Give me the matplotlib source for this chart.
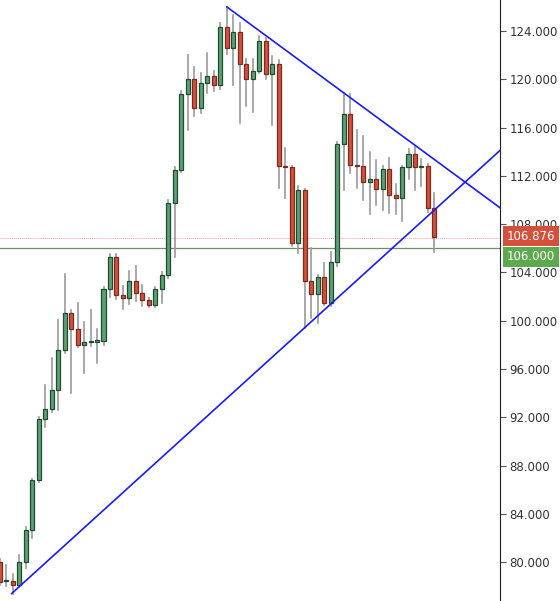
import matplotlib
matplotlib.use("Agg")
import matplotlib.pyplot as plt
from matplotlib.patches import Rectangle

opens = [80.0,78.4,78.4,78.1,80.0,82.7,86.8,91.85,92.7,94.3,97.6,100.6,99.3,98.0,98.2,98.25,98.3,102.6,105.3,102.1,
         101.9,103.3,102.3,101.7,101.3,102.6,103.8,109.75,112.5,118.8,120.0,117.6,119.7,120.3,119.5,124.3,122.6,123.9,121.3,120.0,
         120.7,123.2,120.4,121.3,112.8,112.7,106.4,110.8,103.3,102.2,103.6,101.5,104.9,114.6,117.1,112.9,112.8,111.5,111.7,110.9,
         112.6,110.4,110.2,112.7,113.8,112.7,112.8,109.3]
closes = [78.35,78.45,78.1,80.0,82.7,86.8,91.85,92.7,94.3,97.6,100.6,99.3,98.0,98.2,98.25,98.3,102.6,105.3,102.1,101.9,
          103.3,102.3,101.7,101.3,102.6,103.8,109.75,112.5,118.8,120.0,117.6,119.7,120.3,119.5,124.3,122.6,123.9,121.3,120.0,120.7,
          123.2,120.4,121.3,112.8,112.7,106.4,110.8,103.3,102.2,103.6,101.5,104.9,114.6,117.1,112.9,112.8,111.5,111.7,110.9,112.6,
          110.4,110.2,112.7,113.8,112.7,112.8,109.3,106.9]
highs = [80.3,79.8,79.0,80.6,82.9,86.9,92.0,94.7,96.9,100.1,103.9,100.9,101.5,99.9,100.9,99.3,102.8,105.5,105.5,102.9,
         104.1,104.5,103.0,101.9,102.8,104.0,110.0,112.7,119.0,122.0,121.0,120.5,122.2,120.7,124.7,126.0,125.3,124.7,121.7,121.7,
         123.6,123.4,121.9,121.6,114.3,112.8,111.2,110.9,106.0,103.8,104.8,105.7,114.8,118.9,118.8,115.8,115.3,114.0,113.3,112.8,
         113.5,111.3,112.8,114.2,114.5,113.4,113.0,110.6]
lows = [78.1,78.0,77.4,78.0,79.5,82.0,86.6,91.2,92.4,92.6,97.3,94.0,97.8,95.7,97.9,96.5,98.0,102.0,101.8,101.0,
        101.4,101.6,101.2,101.1,101.1,101.5,103.5,105.3,112.3,115.8,117.0,117.2,118.9,119.0,119.2,122.1,119.5,116.4,117.8,117.3,
        120.5,120.0,116.2,111.0,110.2,106.2,105.6,99.4,100.2,99.8,101.3,101.2,104.5,110.8,112.2,111.0,110.0,108.8,109.6,109.2,
        108.9,108.8,108.3,111.7,110.8,111.2,109.0,105.7]

support_x = [1.85, 77.5]
support_y = [77.4, 114.3]
resist_x = [35.0, 77.5]
resist_y = [126.0, 109.2]
last_price = 106.876
level = 106.0
yticks = [80, 84, 88, 92, 96, 100, 104, 108, 112, 116, 120, 124]

fig = plt.figure(figsize=(5.6, 6.01), dpi=100)
ax = fig.add_axes([0, 0, 500/560, 1])
ax.set_xlim(0.05, 77.1)
ax.set_ylim(76.78, 126.57)

gb, ge = "#5f9f78", "#1d4d2c"
rb, re = "#d4503c", "#7a2b1f"
w = 0.62
for i, (o, c, h, l) in enumerate(zip(opens, closes, highs, lows)):
    up = c >= o
    ax.plot([i, i], [l, h], color="#9a9a9a", lw=1.2, zorder=1)
    b = min(o, c); hgt = max(abs(c - o), 0.12)
    ax.add_patch(Rectangle((i - w/2, b), w, hgt, facecolor=gb if up else rb,
                           edgecolor=ge if up else re, lw=0.9, zorder=2))

ax.plot(support_x, support_y, color="#1a1aff", lw=1.2, zorder=3)
ax.plot(resist_x, resist_y, color="#1a1aff", lw=1.2, zorder=3)
ax.axhline(last_price, color="#f0a0a0", lw=0.7, ls=(0, (1, 1)), zorder=0)
ax.axhline(level, color="#6a8f6a", lw=0.9, zorder=0)

ax.yaxis.tick_right()
ax.set_yticks(yticks)
ax.set_yticklabels([f"{v:.3f}" for v in yticks], fontsize=8.5, color="#333333")
ax.tick_params(axis="y", length=4, color="#555555", pad=3)
ax.set_xticks([])
for s in ["top", "left", "bottom"]:
    ax.spines[s].set_visible(False)
ax.spines["right"].set_color("#222222")

for val, col, dy in [(last_price, "#d4503c", 1), (level, "#5daa4e", -6)]:
    ax.annotate(f"{val:.3f}", xy=(1.0, val), xycoords=ax.get_yaxis_transform(),
                xytext=(5, dy), textcoords="offset points",
                va="center", ha="left", fontsize=8.5, color="white", annotation_clip=False,
                bbox=dict(boxstyle="square,pad=0.3", fc=col, ec="none"), zorder=5)

fig.savefig("out.png", dpi=100)
